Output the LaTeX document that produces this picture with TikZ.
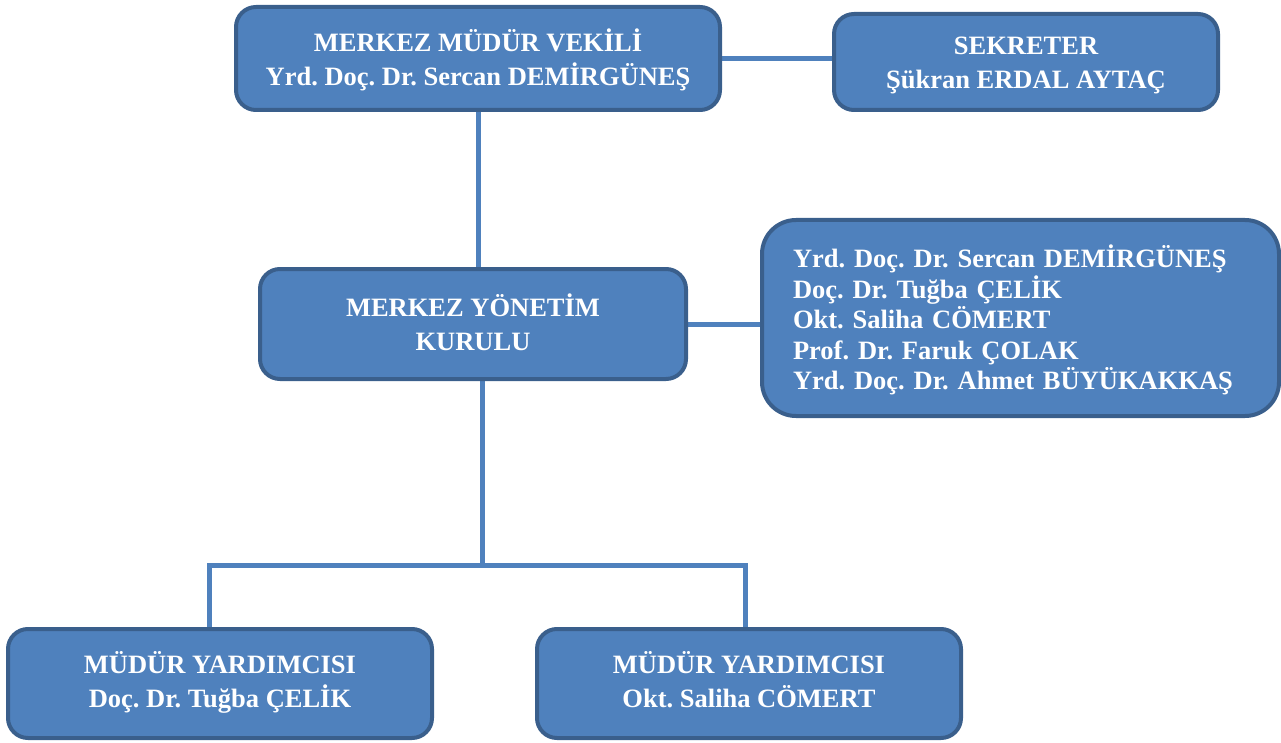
\documentclass[tikz,border=0pt]{standalone}
\usepackage{fontspec}
\setmainfont{Liberation Serif}
\usetikzlibrary{backgrounds}
\frenchspacing
\newcommand{\topstrut}{\rule{0pt}{30pt}}
\definecolor{boxfill}{HTML}{4F81BD}
\definecolor{boxedge}{HTML}{3A5F8C}
\tikzstyle{box}=[fill=boxfill, draw=boxedge, line width=4pt, rounded corners=20pt, shape=rectangle, text=white, font=\bfseries\fontsize{26.5}{34}\selectfont, align=center, inner sep=0pt]
\tikzstyle{lnk}=[draw=boxfill, line width=5pt]

\begin{document}
\begin{tikzpicture}[x=1pt, y=-1pt]
		\useasboundingbox (0,0) rectangle (1281,743);

		\node [style=box, minimum width=484pt, minimum height=103pt] (1) at (478, 58.5) {\topstrut MERKEZ MÜDÜR VEKİLİ\\Yrd. Doç. Dr. Sercan DEMİRGÜNEŞ\strut};
		\node [style=box, minimum width=384pt, minimum height=96pt] (2) at (1026, 62) {\topstrut SEKRETER\\Şükran ERDAL AYTAÇ\strut};
		\node [style=box, minimum width=426pt, minimum height=110pt] (3) at (473, 324) {\topstrut MERKEZ YÖNETİM\\KURULU\strut};
		\node [style=box, rounded corners=34pt, minimum width=517pt, minimum height=196pt, text width=455pt, align=left, font=\bfseries\fontsize{26.5}{30.5}\selectfont] (4) at (1020.5, 318) {\rule{0pt}{30.5pt}Yrd. Doç. Dr. Sercan DEMİRGÜNEŞ\\Doç. Dr. Tuğba ÇELİK\\Okt. Saliha CÖMERT\\Prof. Dr. Faruk ÇOLAK\\Yrd. Doç. Dr. Ahmet BÜYÜKAKKAŞ\strut};
		\node [style=box, minimum width=424pt, minimum height=109pt] (5) at (220, 683.5) {\strut MÜDÜR YARDIMCISI\\Doç. Dr. Tuğba ÇELİK\strut};
		\node [style=box, minimum width=424pt, minimum height=109pt] (6) at (749, 683.5) {\strut MÜDÜR YARDIMCISI\\Okt. Saliha CÖMERT\strut};

		\coordinate (7) at (482, 565);
		\coordinate (8) at (209, 565);
		\coordinate (9) at (745, 565);

		\begin{scope}[on background layer]
		\draw [style=lnk] (1.east) -- (1.east -| 2.west);
		\draw [style=lnk] (1.south) -- (1.south |- 3.north);
		\draw [style=lnk] (3.east) -- (3.east -| 4.west);
		\draw [style=lnk] (7 |- 3.south) -- (7);
		\draw [style=lnk] (8 |- 5.north) -- (8) -- (9) -- (9 |- 6.north);
		\end{scope}
	\end{tikzpicture}
\end{document}
